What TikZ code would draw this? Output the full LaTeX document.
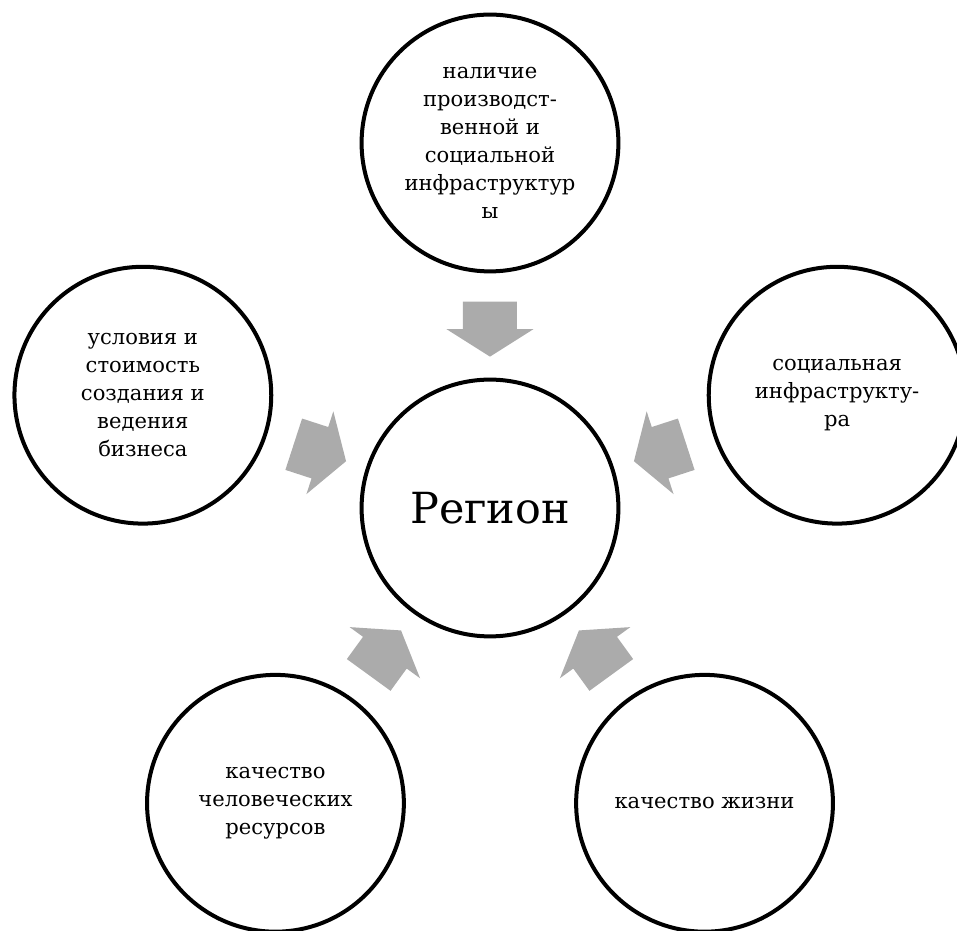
\documentclass[tikz,border=0pt]{standalone}
\usepackage{fontspec}
\setmainfont{DejaVu Serif}
\usepackage{tikz}
\usetikzlibrary{calc}

\definecolor{arrowgray}{HTML}{ABABAB}
\tikzset{
    factor/.style={circle, draw, line width=2.85pt, minimum size=6.42cm, inner sep=0pt,
        align=center, font=\fontsize{15}{19.9}\selectfont},
    region/.style={circle, draw, line width=2.85pt, minimum size=6.42cm, inner sep=0pt,
        font=\fontsize{30.5}{36}\selectfont},
    blockarrow/.style={fill=arrowgray}
}

\begin{document}
\begin{tikzpicture}
    % Cadre
    \path[use as bounding box, clip] (-12.25,-10.575) rectangle (11.675,12.7);

    % Centre
    \node[region] (reg) at (0,0) {Регион};

    % Facteurs autour
    \node[factor] (infra) at (90:9.125) {наличие\\производст-\\венной и\\социальной\\инфраструктур\\ы};
    \node[factor] (biz) at (162:9.125) {условия и\\стоимость\\создания и\\ведения\\бизнеса};
    \node[factor] (soc) at (18:9.125) {социальная\\инфраструкту-\\ра};
    \node[factor] (hum) at (234:9.125) {качество\\человеческих\\ресурсов};
    \node[factor] (life) at (306:9.125) {качество жизни};

    % Flèches vers le centre
    \foreach \n/\a in {infra/90, biz/162, soc/18, hum/234, life/306}
        \fill[blockarrow, shift={($(reg)!0.49!(\n)$)}, rotate=\a+180]
            (-0.6875,-0.675) -- (0,-0.675) -- (0,-1.0875) -- (0.6875,0)
            -- (0,1.0875) -- (0,0.675) -- (-0.6875,0.675) -- cycle;
\end{tikzpicture}
\end{document}
